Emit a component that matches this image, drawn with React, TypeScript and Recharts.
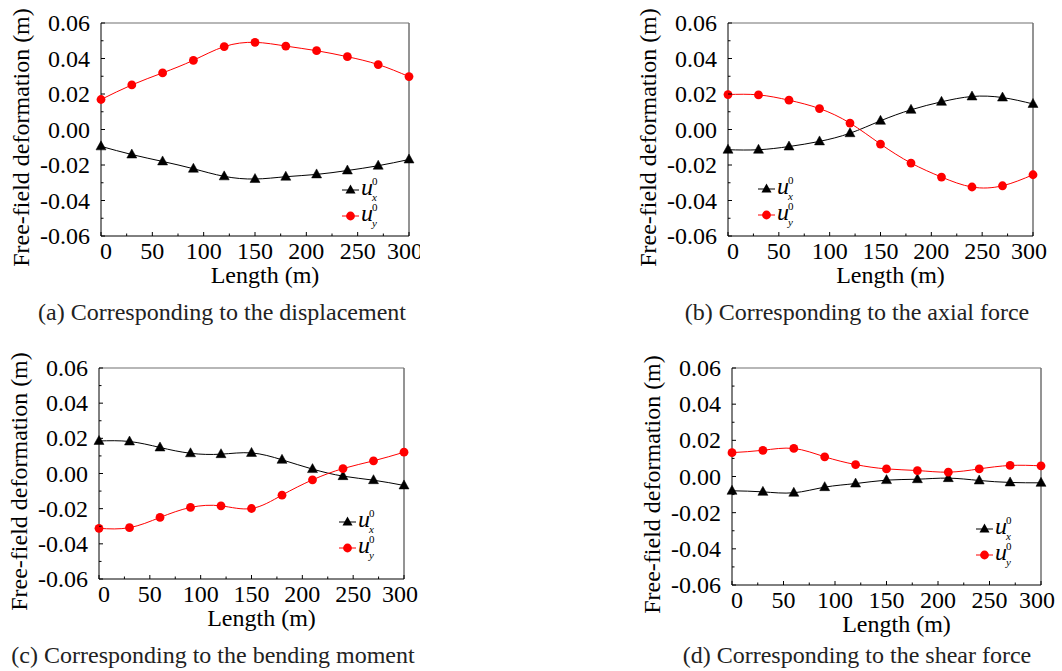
import { LineChart, Line, XAxis, YAxis, Label, ReferenceLine } from 'recharts';

const lengths = [0, 30, 60, 90, 120, 150, 180, 210, 240, 270, 300];

// (a) displacement
const uxDisp = [-0.0095, -0.0141, -0.018, -0.0221, -0.0264, -0.0279, -0.0266, -0.0253, -0.0231, -0.0204, -0.0169];
const uyDisp = [0.0169, 0.0251, 0.0319, 0.039, 0.0467, 0.0491, 0.047, 0.0444, 0.041, 0.0366, 0.0298];
// (b) axial force
const uxAxial = [-0.0114, -0.0114, -0.0096, -0.0067, -0.0021, 0.0049, 0.0111, 0.0156, 0.0186, 0.018, 0.0144];
const uyAxial = [0.0197, 0.0195, 0.0165, 0.0118, 0.0036, -0.0082, -0.0189, -0.0268, -0.0324, -0.0317, -0.0255];
// (c) bending moment
const uxBend = [0.0185, 0.0182, 0.0148, 0.0115, 0.011, 0.0117, 0.0078, 0.0025, -0.0015, -0.0038, -0.0068];
const uyBend = [-0.0312, -0.0308, -0.025, -0.0193, -0.0184, -0.0199, -0.0123, -0.0036, 0.0028, 0.0072, 0.0121];
// (d) shear force
const uxShear = [-0.0079, -0.0085, -0.009, -0.0059, -0.0039, -0.002, -0.0015, -0.0009, -0.0022, -0.0033, -0.0035];
const uyShear = [0.0132, 0.0145, 0.0155, 0.0109, 0.0066, 0.0042, 0.0033, 0.0024, 0.0042, 0.0061, 0.0059];

const xTicks = [0, 25, 50, 75, 100, 125, 150, 175, 200, 225, 250, 275, 300];
const xMajor = [0, 50, 100, 150, 200, 250, 300];
const yTicks = [-0.06, -0.05, -0.04, -0.03, -0.02, -0.01, 0, 0.01, 0.02, 0.03, 0.04, 0.05, 0.06];
const yMajor = ['-0.06', '-0.04', '-0.02', '0.00', '0.02', '0.04', '0.06'];

const FONT = 'Liberation Serif, Tinos, DejaVu Serif, serif';
const FS = 24;

const makeRows = (ux: number[], uy: number[]) =>
  lengths.map((len, i) => ({ len, ux: ux[i], uy: uy[i] }));

type PanelCfg = {
  left: number;
  top: number;
  width: number;
  height: number;
  plotL: number;
  plotR: number;
  plotT: number;
  plotB: number;
  ux: number[];
  uy: number[];
  caption: string;
  capX: number;
  capY: number;
  legX: number;
  legY: number;
};

const panels: PanelCfg[] = [
  { left: 0, top: 0, width: 420, height: 295, plotL: 101, plotR: 409, plotT: 23, plotB: 236, ux: uxDisp, uy: uyDisp,
    caption: '(a) Corresponding to the displacement', capX: 222, capY: 312, legX: 342, legY: 190 },
  { left: 630, top: 0, width: 420, height: 295, plotL: 728, plotR: 1033, plotT: 23, plotB: 236, ux: uxAxial, uy: uyAxial,
    caption: '(b) Corresponding to the axial force', capX: 857, capY: 312, legX: 758, legY: 189 },
  { left: 0, top: 345, width: 420, height: 300, plotL: 99, plotR: 404, plotT: 368, plotB: 579, ux: uxBend, uy: uyBend,
    caption: '(c) Corresponding to the bending moment', capX: 213, capY: 655, legX: 339, legY: 522 },
  { left: 630, top: 345, width: 432, height: 300, plotL: 732, plotR: 1041, plotT: 368, plotB: 585, ux: uxShear, uy: uyShear,
    caption: '(d) Corresponding to the shear force', capX: 857, capY: 655, legX: 976, legY: 529 },
];

function YTick(props: any) {
  const { x, y, payload } = props;
  const v = payload.value as number;
  let label = v.toFixed(2);
  if (label === '-0.00') label = '0.00';
  const major = yMajor.includes(label);
  return (
    <g>
      <line x1={x} x2={x + (major ? 4 : 2.5)} y1={y} y2={y} stroke="#000" strokeWidth={1} />
      {major && (
        <text x={x - 11} y={y} textAnchor="end" dominantBaseline="central" fontFamily={FONT} fontSize={FS} fill="#000">
          {label}
        </text>
      )}
    </g>
  );
}

function XTick(props: any) {
  const { x, y, payload } = props;
  const v = payload.value as number;
  const major = xMajor.includes(v);
  const shift = v === 0 ? 5 : v === 300 ? -4 : 0;
  return (
    <g>
      <line x1={x} x2={x} y1={y} y2={y - (major ? 4 : 2.5)} stroke="#000" strokeWidth={1} />
      {major && (
        <text x={x + shift} y={y + 15} textAnchor="middle" dominantBaseline="central" fontFamily={FONT} fontSize={FS} fill="#000">
          {v}
        </text>
      )}
    </g>
  );
}

function Triangle(props: any) {
  const { cx, cy } = props;
  if (cx == null || cy == null) return <g />;
  return (
    <polygon
      points={`${cx},${cy - 5.5} ${cx - 5},${cy + 3.5} ${cx + 5},${cy + 3.5}`}
      fill="#000"
      stroke="#000"
      strokeWidth={0.5}
    />
  );
}

function LegendEntry({ x, y, kind, sub }: { x: number; y: number; kind: 'tri' | 'dot'; sub: string }) {
  const color = kind === 'tri' ? '#000' : '#ff0000';
  const mx = x + 8.5;
  return (
    <g>
      <line x1={x} x2={x + 17} y1={y} y2={y} stroke={color} strokeWidth={1} />
      {kind === 'tri' ? (
        <polygon points={`${mx},${y - 5.5} ${mx - 5},${y + 3.5} ${mx + 5},${y + 3.5}`} fill="#000" />
      ) : (
        <circle cx={mx} cy={y} r={4.4} fill="#ff0000" />
      )}
      <text x={x + 19} y={y + 5} fontFamily={FONT} fontSize={FS} fontStyle="italic" fill="#000">
        u
      </text>
      <text x={x + 30} y={y - 5} fontFamily={FONT} fontSize={11} fill="#000">
        0
      </text>
      <text x={x + 30} y={y + 11} fontFamily={FONT} fontSize={11} fontStyle="italic" fill="#000">
        {sub}
      </text>
    </g>
  );
}

function Panel({ cfg }: { cfg: PanelCfg }) {
  const yAxisW = cfg.plotL - cfg.left;
  const xAxisH = cfg.top + cfg.height - cfg.plotB;
  return (
    <div style={{ position: 'absolute', left: cfg.left, top: cfg.top }}>
      <LineChart
        width={cfg.width}
        height={cfg.height}
        data={makeRows(cfg.ux, cfg.uy)}
        margin={{ top: cfg.plotT - cfg.top, right: cfg.left + cfg.width - cfg.plotR, left: 0, bottom: 0 }}
      >
        <XAxis
          dataKey="len"
          type="number"
          domain={[0, 300]}
          ticks={xTicks}
          interval={0}
          height={xAxisH}
          tickSize={0}
          tickMargin={0}
          tickLine={false}
          axisLine={{ stroke: '#000', strokeWidth: 1 }}
          tick={<XTick />}
        >
          <Label
            content={(p: any) => {
              const vb = p.viewBox;
              return (
                <text x={vb.x + vb.width / 2 + 10} y={vb.y + 39} textAnchor="middle" dominantBaseline="central"
                  fontFamily={FONT} fontSize={FS} fill="#000">
                  Length (m)
                </text>
              );
            }}
          />
        </XAxis>
        <YAxis
          type="number"
          domain={[-0.06, 0.06]}
          allowDataOverflow
          ticks={yTicks}
          interval={0}
          width={yAxisW}
          tickSize={0}
          tickMargin={0}
          tickLine={false}
          axisLine={{ stroke: '#000', strokeWidth: 1 }}
          tick={<YTick />}
        >
          <Label
            content={(p: any) => {
              const vb = p.viewBox;
              const tx = vb.x + vb.width - 80;
              const ty = vb.y + vb.height / 2 + 8;
              return (
                <text x={tx} y={ty} textAnchor="middle" dominantBaseline="central" transform={`rotate(-90 ${tx} ${ty})`}
                  fontFamily={FONT} fontSize={FS} fill="#000">
                  Free-field deformation (m)
                </text>
              );
            }}
          />
        </YAxis>
        <ReferenceLine y={0.06} stroke="#707070" strokeWidth={1.2} />
        <ReferenceLine x={300} stroke="#707070" strokeWidth={1.5} />
        <Line
          dataKey="ux"
          type="natural"
          stroke="#000"
          strokeWidth={1}
          dot={<Triangle />}
          isAnimationActive={false}
        />
        <Line
          dataKey="uy"
          type="natural"
          stroke="#ff0000"
          strokeWidth={1}
          dot={{ r: 4.4, fill: '#ff0000', stroke: '#ff0000', strokeWidth: 0 }}
          isAnimationActive={false}
        />
      </LineChart>
    </div>
  );
}

export default function App() {
  return (
    <div style={{ position: 'absolute', left: 0, top: 0, width: 1062, height: 671, background: '#fff', overflow: 'hidden' }}>
      {panels.map((cfg) => (
        <Panel key={cfg.caption} cfg={cfg} />
      ))}
      <svg width={1062} height={671} style={{ position: 'absolute', left: 0, top: 0, pointerEvents: 'none' }}>
        {panels.map((cfg) => (
          <g key={cfg.caption}>
            <LegendEntry x={cfg.legX} y={cfg.legY} kind="tri" sub="x" />
            <LegendEntry x={cfg.legX} y={cfg.legY + 26} kind="dot" sub="y" />
          </g>
        ))}
      </svg>
      {panels.map((cfg) => (
        <div
          key={cfg.caption}
          style={{
            position: 'absolute',
            left: cfg.capX - 250,
            width: 500,
            top: cfg.capY - 14,
            height: 28,
            lineHeight: '28px',
            textAlign: 'center',
            fontFamily: FONT,
            fontSize: FS,
            color: '#222',
            whiteSpace: 'nowrap',
          }}
        >
          {cfg.caption}
        </div>
      ))}
    </div>
  );
}
